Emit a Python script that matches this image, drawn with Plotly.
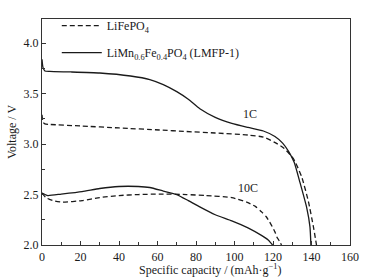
import plotly.graph_objects as go

# LiMn0.6Fe0.4PO4 (LMFP-1), 1C
lmfp_1c_cap = [0, 0.5, 1.5, 4, 15, 30, 46, 56, 63, 70, 76, 82, 90, 98.6, 107, 115, 121, 125, 128, 131, 134, 137.5, 139.2, 139.7]
lmfp_1c_v = [3.84, 3.76, 3.725, 3.72, 3.715, 3.705, 3.675, 3.64, 3.59, 3.52, 3.445, 3.35, 3.265, 3.205, 3.165, 3.13, 3.075, 3.01, 2.93, 2.82, 2.62, 2.37, 2.18, 2.0]

# LiFePO4, 1C
lfp_1c_cap = [0, 0.5, 1.5, 4, 20, 40, 61, 75, 90, 107, 115, 120.6, 125.7, 130.8, 135, 138.4, 141, 142.6]
lfp_1c_v = [3.29, 3.22, 3.20, 3.195, 3.18, 3.16, 3.14, 3.125, 3.11, 3.09, 3.07, 3.02, 2.96, 2.85, 2.67, 2.43, 2.18, 2.0]

# LiMn0.6Fe0.4PO4 (LMFP-1), 10C
lmfp_10c_cap = [0, 3, 10, 20.8, 30, 40, 50, 56, 63, 70, 76, 81.7, 90, 98.6, 107, 114, 117.5, 119.8]
lmfp_10c_v = [2.515, 2.49, 2.505, 2.53, 2.56, 2.58, 2.58, 2.57, 2.535, 2.50, 2.44, 2.38, 2.30, 2.24, 2.17, 2.095, 2.05, 2.0]

# LiFePO4, 10C
lfp_10c_cap = [0, 2, 5.6, 10.7, 20.8, 30, 40, 50, 61, 75, 85, 98.6, 107, 111, 114, 116.5, 118.8, 121, 122, 123.3, 124.4]
lfp_10c_v = [2.515, 2.47, 2.44, 2.425, 2.44, 2.47, 2.49, 2.50, 2.505, 2.50, 2.49, 2.47, 2.42, 2.38, 2.33, 2.28, 2.21, 2.13, 2.08, 2.04, 2.0]

x_ticks = [0, 20, 40, 60, 80, 100, 120, 140, 160]
y_ticks = [2.0, 2.5, 3.0, 3.5, 4.0]

FONT = "Liberation Serif"
INK = "#1a1a1a"
dash = "5px,3px"

fig = go.Figure()
fig.add_trace(go.Scatter(x=lfp_1c_cap, y=lfp_1c_v, mode="lines", name="LiFePO<sub>4</sub>",
                         line=dict(color=INK, width=1.3, dash=dash, shape="spline", smoothing=0.5),
                         legendgroup="a"))
fig.add_trace(go.Scatter(x=lmfp_1c_cap, y=lmfp_1c_v, mode="lines",
                         name="LiMn<sub>0.6</sub>Fe<sub>0.4</sub>PO<sub>4</sub> (LMFP-1)",
                         line=dict(color=INK, width=1.3, shape="spline", smoothing=0.5),
                         legendgroup="b"))
fig.add_trace(go.Scatter(x=lfp_10c_cap, y=lfp_10c_v, mode="lines", showlegend=False,
                         line=dict(color=INK, width=1.3, dash=dash, shape="spline", smoothing=0.5)))
fig.add_trace(go.Scatter(x=lmfp_10c_cap, y=lmfp_10c_v, mode="lines", showlegend=False,
                         line=dict(color=INK, width=1.3, shape="spline", smoothing=0.5)))

fig.add_annotation(x=108, y=3.30, text="1C", showarrow=False, font=dict(family=FONT, size=12, color=INK))
fig.add_annotation(x=107, y=2.565, text="10C", showarrow=False, font=dict(family=FONT, size=12, color=INK))
fig.add_annotation(x=0.547, y=0, xref="paper", yref="paper", yshift=-24, yanchor="middle",
                   text="Specific capacity / (mAh·g<sup>−1</sup>)", showarrow=False,
                   font=dict(family=FONT, size=12, color=INK))

axis_common = dict(showgrid=False, zeroline=False, showline=True, linecolor="#333", linewidth=1.3,
                   mirror=True, ticks="inside", ticklen=4, tickwidth=1, tickcolor="#333",
                   tickfont=dict(family=FONT, size=12, color=INK))

fig.update_xaxes(range=[0, 160], tickvals=x_ticks, ticktext=[str(v) for v in x_ticks],
                 minor=dict(dtick=10, ticks="inside", ticklen=3, tickcolor="#333"),
                 **axis_common)
fig.update_yaxes(range=[2.0, 4.24], tickvals=y_ticks, ticktext=[f"{v:.1f}" for v in y_ticks],
                 minor=dict(dtick=0.25, tick0=2.0, ticks="inside", ticklen=3, tickcolor="#333"),
                 title=dict(text="Voltage / V", font=dict(family=FONT, size=12, color=INK), standoff=4),
                 **axis_common)

fig.update_layout(width=370, height=278, margin=dict(l=39, r=15, t=11, b=33),
                  paper_bgcolor="white", plot_bgcolor="white",
                  legend=dict(x=0.048, y=1.035, xanchor="left", yanchor="top", bgcolor="rgba(0,0,0,0)",
                              font=dict(family=FONT, size=12, color=INK), tracegroupgap=8,
                              traceorder="grouped", itemwidth=40),
                  font=dict(family=FONT, color=INK))

fig.write_html("out.html", config={"displayModeBar": False},
               post_script="document.body.style.margin='0';document.body.style.overflow='hidden';")
